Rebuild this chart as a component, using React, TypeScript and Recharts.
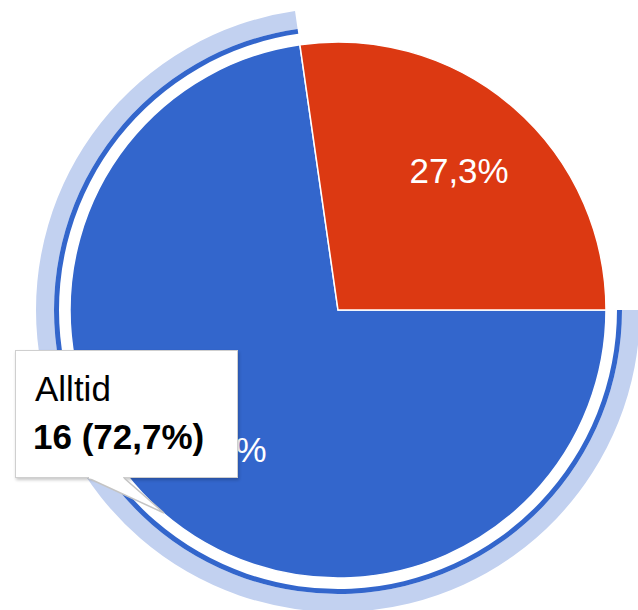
import { PieChart, Pie, Cell, Tooltip } from 'recharts';

const categories = ['Alltid', 'Ibland'];
const counts = [16, 6];
const colors = ['#3366cc', '#dc3912'];
const hoverRing = '#c2d1f0';

const total = counts.reduce((a, b) => a + b, 0);
const data = categories.map((name, i) => ({ name, value: counts[i] }));

const FONT = 'Arial, "Liberation Sans", sans-serif';
const RAD = Math.PI / 180;

// Swedish style: 27,3%
const fmtPct = (p: number) => (p * 100).toFixed(1).replace('.', ',') + '%';

function SliceLabel(props: any) {
  const { cx, cy, midAngle, outerRadius, percent } = props;
  const r = outerRadius * 0.69;
  const x = cx + r * Math.cos(-midAngle * RAD);
  const y = cy + r * Math.sin(-midAngle * RAD);
  return (
    <text
      x={x}
      y={y}
      fill="#fff"
      fontSize={35}
      fontFamily={FONT}
      textAnchor="middle"
      dominantBaseline="central"
    >
      {fmtPct(percent)}
    </text>
  );
}

function HoverBox({ payload }: any) {
  const item = payload && payload.length ? payload[0] : null;
  const idx = item ? Math.max(0, categories.indexOf(item.name)) : 0;
  const name = categories[idx];
  const value = counts[idx];
  return (
    <div
      style={{
        position: 'relative',
        width: 223,
        height: 128,
        boxSizing: 'border-box',
        background: '#fff',
        border: '1px solid #cfcfcf',
        boxShadow: '1px 2px 3px rgba(0,0,0,0.22)',
        fontFamily: FONT,
        color: '#000',
      }}
    >
      <div style={{ position: 'absolute', left: 19, top: 20, fontSize: 35, lineHeight: 1 }}>{name}</div>
      <div style={{ position: 'absolute', left: 17, top: 68, fontSize: 35, lineHeight: 1, fontWeight: 'bold' }}>
        {`${value} (${fmtPct(value / total)})`}
      </div>
      <svg
        width={100}
        height={40}
        style={{ position: 'absolute', left: 0, top: 126, overflow: 'visible' }}
      >
        <path d="M72 1 L148 36 L108 1" fill="#fff" stroke="#c4c4c4" strokeWidth={1.5} />
        <rect x={73} y={-1} width={34} height={2.5} fill="#fff" />
      </svg>
    </div>
  );
}

export default function App() {
  return (
    <div style={{ width: 638, height: 610, background: '#fff' }}>
      <style>{'body{margin:0}'}</style>
      <PieChart width={638} height={610} margin={{ top: 0, right: 0, bottom: 0, left: 0 }}>
        {/* hover highlight: light outer band */}
        <Pie
          data={data}
          dataKey="value"
          nameKey="name"
          cx={338}
          cy={310}
          innerRadius={284}
          outerRadius={302}
          startAngle={0}
          endAngle={-360}
          stroke="none"
          isAnimationActive={false}
        >
          {data.map((d, i) => (
            <Cell key={d.name} fill={i === 0 ? hoverRing : 'none'} />
          ))}
        </Pie>
        {/* hover highlight: thin dark line */}
        <Pie
          data={data}
          dataKey="value"
          nameKey="name"
          cx={338}
          cy={310}
          innerRadius={279}
          outerRadius={284}
          startAngle={0}
          endAngle={-360}
          stroke="none"
          isAnimationActive={false}
        >
          {data.map((d, i) => (
            <Cell key={d.name} fill={i === 0 ? colors[0] : 'none'} />
          ))}
        </Pie>
        <Pie
          data={data}
          dataKey="value"
          nameKey="name"
          cx={338}
          cy={310}
          outerRadius={268}
          startAngle={0}
          endAngle={-360}
          stroke="#fff"
          strokeWidth={1.5}
          labelLine={false}
          label={SliceLabel}
          isAnimationActive={false}
        >
          {data.map((d, i) => (
            <Cell key={d.name} fill={colors[i]} />
          ))}
        </Pie>
        <Tooltip
          active
          defaultIndex={0}
          position={{ x: 15, y: 350 }}
          content={HoverBox}
          isAnimationActive={false}
          wrapperStyle={{ zIndex: 10, outline: 'none' }}
        />
      </PieChart>
    </div>
  );
}
